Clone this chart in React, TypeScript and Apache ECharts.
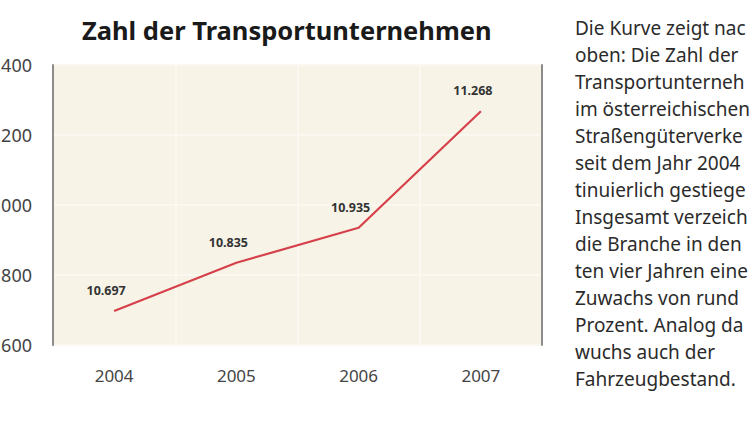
import { useEffect, useRef } from 'react';
import * as echarts from 'echarts';

const years = ['2004', '2005', '2006', '2007'];
const companies = [10697, 10835, 10935, 11268];
const yMin = 10600;
const yMax = 11400;
const yStep = 200;

const chartTitle = 'Zahl der Transportunternehmen';

// Begleittext rechts, im Original am Bildrand abgeschnitten
const descLines = [
    'Die Kurve zeigt nac',
    'oben: Die Zahl der',
    'Transportunterneh',
    'im österreichischen',
    'Straßengüterverke',
    'seit dem Jahr 2004',
    'tinuierlich gestiege',
    'Insgesamt verzeich',
    'die Branche in den',
    'ten vier Jahren eine',
    'Zuwachs von rund',
    'Prozent. Analog da',
    'wuchs auch der',
    'Fahrzeugbestand.'
];

const fmtDe = (v: number) => String(v).replace(/\B(?=(\d{3})+(?!\d))/g, '.');

const FONT = '"Noto Sans", "Open Sans", sans-serif';

const App = () => {
    const chartRef = useRef<HTMLDivElement>(null);

    useEffect(() => {
        if (!chartRef.current) return;
        const chart = echarts.init(chartRef.current, undefined, { renderer: 'svg' });

        const yAxisBase = {
            type: 'value' as const,
            min: yMin,
            max: yMax,
            interval: yStep,
            axisTick: { show: false },
            axisLine: { show: true, lineStyle: { color: '#8c8c8c', width: 2 } }
        };

        chart.setOption({
            animation: false,
            backgroundColor: '#ffffff',
            textStyle: { fontFamily: FONT },
            title: {
                text: chartTitle,
                left: 82,
                top: 17,
                padding: 0,
                textStyle: { fontSize: 25.5, fontWeight: 'bold', color: '#1a1a1a', fontFamily: FONT }
            },
            grid: {
                left: 53,
                right: 208,
                top: 65,
                bottom: 77,
                containLabel: false,
                outerBoundsMode: 'none',
                show: true,
                backgroundColor: '#f7f4e7',
                borderWidth: 0
            },
            xAxis: {
                type: 'category',
                data: years,
                boundaryGap: true,
                axisLine: { show: false },
                axisTick: { show: false },
                axisLabel: { color: '#444', fontSize: 17, margin: 22, fontFamily: FONT },
                splitLine: { show: true, interval: 0, lineStyle: { color: '#faf8f0', width: 2 } }
            },
            yAxis: [
                {
                    ...yAxisBase,
                    position: 'left',
                    axisLabel: {
                        color: '#444',
                        fontSize: 18,
                        margin: 21,
                        fontFamily: FONT,
                        formatter: (v: number) => fmtDe(v)
                    },
                    splitLine: { show: true, lineStyle: { color: '#faf8f0', width: 2 } }
                },
                {
                    ...yAxisBase,
                    position: 'right',
                    axisLabel: { show: false },
                    splitLine: { show: false }
                }
            ],
            series: [
                {
                    type: 'line',
                    data: companies,
                    yAxisIndex: 0,
                    symbol: 'circle',
                    symbolSize: 2,
                    showSymbol: true,
                    itemStyle: { color: 'rgba(214,64,74,0)', borderWidth: 0 },
                    lineStyle: { color: '#d6404a', width: 2.2 },
                    label: {
                        show: true,
                        position: 'top',
                        distance: 13,
                        offset: [-8, 0],
                        color: '#333',
                        fontSize: 12.5,
                        fontWeight: 'bold',
                        fontFamily: FONT,
                        formatter: (p: any) => fmtDe(p.value)
                    }
                }
            ],
            graphic: [
                {
                    type: 'text',
                    left: 575,
                    top: 14,
                    style: {
                        text: descLines.join('\n'),
                        font: `19px ${FONT}`,
                        lineHeight: 27,
                        fill: '#2b2b2b'
                    }
                }
            ]
        });

        return () => {
            chart.dispose();
        };
    }, []);

    return (
        <div
            ref={chartRef}
            style={{ position: 'fixed', left: 0, top: 0, width: 750, height: 422, overflow: 'hidden' }}
        />
    );
};

export default App;
